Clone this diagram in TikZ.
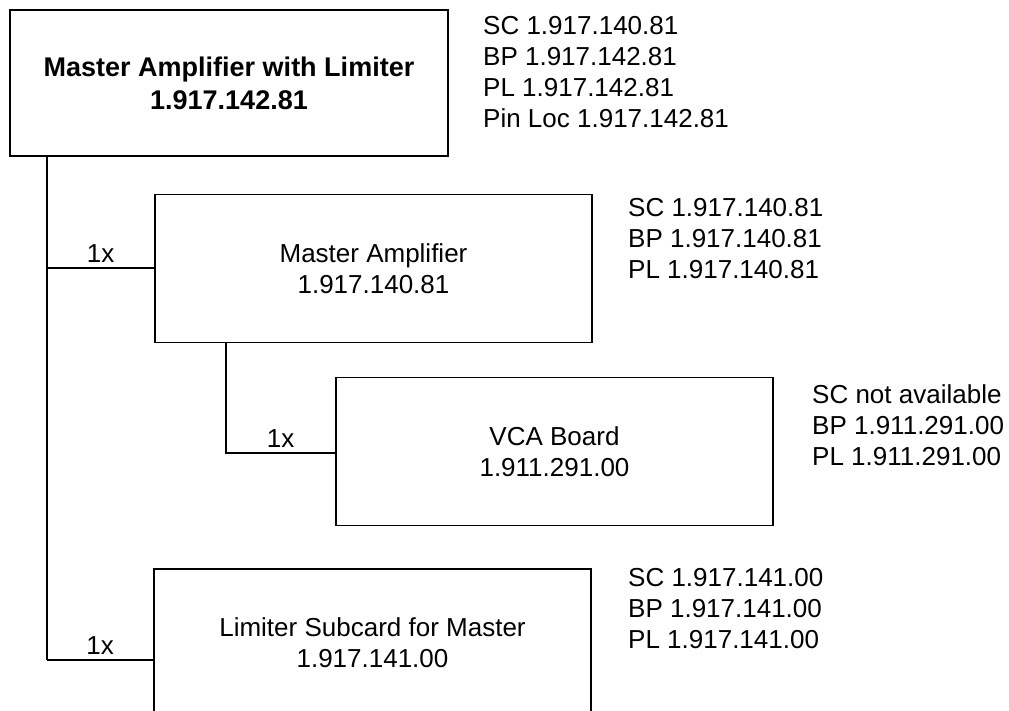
\documentclass[tikz,border=0pt]{standalone}
\usepackage{fontspec}
\setmainfont{Liberation Sans}
\usepackage{tikz}
\usetikzlibrary{positioning}

\begin{document}
\begin{tikzpicture}[
  x=1pt, y=-1pt,
  font=\fontsize{26}{31}\selectfont,
  card/.style={rectangle, draw, line width=1.7pt,
               minimum width=437pt, minimum height=148pt,
               text centered, align=center, fill=white},
  mastercard/.style={card, line width=2.4pt, minimum width=438pt,
               minimum height=146pt, font=\fontsize{27}{33}\selectfont\bfseries},
  partlist/.style={anchor=west, align=left, inner sep=0pt},
  trunk/.style={line width=2.4pt},
  link/.style={line width=1.8pt},
  qty/.style={above=5pt, inner sep=0pt}
]
\useasboundingbox (0,0) rectangle (1009,710);

% ---- Boxes ----
\node[mastercard] (top) at (229,83)    {Master Amplifier with Limiter\\1.917.142.81};
\node[card]       (amp) at (373.5,268.5) {Master Amplifier\\1.917.140.81};
\node[card, line width=1.4pt] (vca) at (554.5,451.5) {VCA Board\\1.911.291.00};
\node[card]       (lim) at (372.5,643) {Limiter Subcard for Master\\1.917.141.00};

% ---- Part numbers ----
\node[partlist] (toppn) at (483,72.2)  {SC 1.917.140.81\\BP 1.917.142.81\\PL 1.917.142.81\\Pin Loc 1.917.142.81};
\node[partlist] (amppn) at (628,238.7) {SC 1.917.140.81\\BP 1.917.140.81\\PL 1.917.140.81};
\node[partlist] (vcapn) at (812,424.7) {SC not available\\BP 1.911.291.00\\PL 1.911.291.00};
\node[partlist] (limpn) at (628,608.7) {SC 1.917.141.00\\BP 1.917.141.00\\PL 1.917.141.00};

% ---- Connections ----
\coordinate (j1) at (47,268);
\coordinate (j3) at (226,453);
\coordinate (j4) at (47,660);

\draw[trunk] (top.south -| j1) -- (j4);
\draw[link] (j1) -- node[qty]{1x} (j1 -| amp.west);
\draw[link] (amp.south -| j3) |- node[qty, pos=0.75]{1x} (j3 -| vca.west);
\draw[link] (j4) -- node[qty]{1x} (j4 -| lim.west);

\end{tikzpicture}
\end{document}
